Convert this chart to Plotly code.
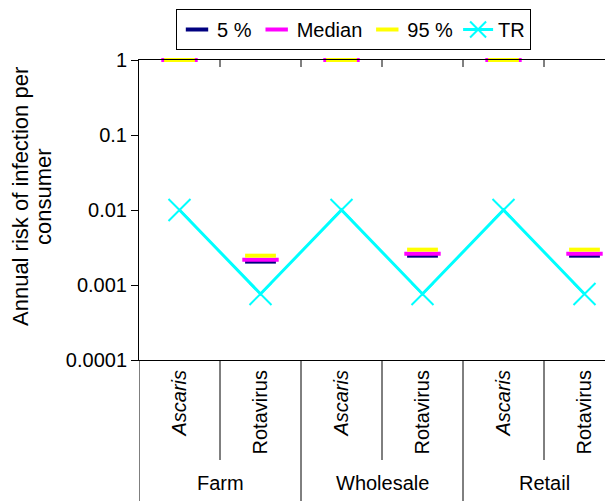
import plotly.graph_objects as go

# ---- data ----
stages = ["Farm", "Wholesale", "Retail"]
pathogens = ["<i>Ascaris</i>", "Rotavirus"]
p5 = [1, 0.00205, 1, 0.00246, 1, 0.00246]
median = [1, 0.00217, 1, 0.00261, 1, 0.00261]
p95 = [1, 0.00246, 1, 0.00296, 1, 0.00296]
tr = [0.01, 0.00076, 0.01, 0.00076, 0.01, 0.00076]
ytick_vals = [0.0001, 0.001, 0.01, 0.1, 1]
ytick_text = ["0.0001", "0.001", "0.01", "0.1", "1"]

inner = [p for s in stages for p in pathogens]
outer = [s for s in stages for p in pathogens]
x = list(range(len(inner)))
npath = len(pathogens)

FONT = "Liberation Sans, Arial, sans-serif"
OFF = 8  # page body margin
W, H = 613 - OFF, 501 - OFF
ML, MT, PH = 139 - OFF, 60 - OFF, 300
MR = 0
MB = H - MT - PH
PW = W - ML - MR
CAT = 81.0  # px per category
xr = [-0.5, -0.5 + PW / CAT]


def px_x(ref_x):
    return (ref_x - OFF - ML) / PW


def px_y(ref_y):
    return (MT + PH - (ref_y - OFF)) / PH


fig = go.Figure()
fig.add_trace(go.Scatter(x=x, y=p5, name="5 %", mode="markers", cliponaxis=False,
                         marker=dict(symbol="line-ew", size=22, color="#000080",
                                     line=dict(color="#000080", width=4))))
fig.add_trace(go.Scatter(x=x, y=median, name="Median", mode="markers", cliponaxis=False,
                         marker=dict(symbol="line-ew", size=26, color="#FF00FF",
                                     line=dict(color="#FF00FF", width=4))))
fig.add_trace(go.Scatter(x=x, y=p95, name="95 %", mode="markers", cliponaxis=False,
                         marker=dict(symbol="line-ew", size=22, color="#FFFF00",
                                     line=dict(color="#FFFF00", width=4))))
fig.add_trace(go.Scatter(x=x, y=tr, name="TR", mode="lines+markers", cliponaxis=False,
                         line=dict(color="#00FFFF", width=3),
                         marker=dict(symbol="x-thin", size=22, color="#00FFFF",
                                     line=dict(color="#00FFFF", width=2))))

shapes = []
# top line ticks at category boundaries
for i in range(len(inner) - 1):
    shapes.append(dict(type="line", xref="x", yref="paper", x0=i + 0.5, x1=i + 0.5,
                       y0=1, y1=1 - 7 / PH, line=dict(color="black", width=1)))
# dividers below the axis
for i in range(len(inner) - 1):
    b = i + 0.5
    y1 = -MB / PH if (i + 1) % npath == 0 else -100 / PH
    shapes.append(dict(type="line", xref="x", yref="paper", x0=b, x1=b,
                       y0=0, y1=y1, line=dict(color="black", width=1)))
# left axis extension
shapes.append(dict(type="line", xref="x", yref="paper", x0=-0.5, x1=-0.5,
                   y0=0, y1=-MB / PH, line=dict(color="black", width=1)))

annotations = []
for gi, s in enumerate(stages):
    cx = gi * npath + (npath - 1) / 2
    annotations.append(dict(x=cx, y=px_y(483), xref="x", yref="paper",
                            text=s, showarrow=False, xanchor="center", yanchor="middle",
                            font=dict(family=FONT, size=20, color="black")))
annotations.append(dict(x=px_x(20), y=px_y(197), xref="paper", yref="paper",
                        text="Annual risk of infection per", textangle=-90, showarrow=False,
                        xanchor="center", yanchor="middle",
                        font=dict(family=FONT, size=22, color="black")))
annotations.append(dict(x=px_x(43), y=px_y(197), xref="paper", yref="paper",
                        text="consumer", textangle=-90, showarrow=False,
                        xanchor="center", yanchor="middle",
                        font=dict(family=FONT, size=22, color="black")))

fig.update_layout(
    width=W, height=H,
    margin=dict(l=ML, r=MR, t=MT, b=MB, autoexpand=False),
    paper_bgcolor="white", plot_bgcolor="white",
    font=dict(family=FONT, size=20, color="black"),
    showlegend=True,
    legend=dict(orientation="h", x=px_x(176), y=px_y(9),
                xanchor="left", yanchor="top", bordercolor="black", borderwidth=1,
                font=dict(family=FONT, size=20, color="black"), itemwidth=30,
                traceorder="normal", bgcolor="white"),
    xaxis=dict(range=xr, tickmode="array", tickvals=x, ticktext=inner, tickangle=-90,
               showgrid=False, zeroline=False, showline=True, mirror=True,
               linecolor="black", linewidth=1, ticks="", ticklabelstandoff=1,
               tickfont=dict(family=FONT, size=20, color="black")),
    yaxis=dict(type="log", range=[-4, 0], tickmode="array", tickvals=ytick_vals,
               ticktext=ytick_text, showgrid=False, zeroline=False, showline=True,
               linecolor="black", linewidth=1, ticks="outside", ticklen=7,
               tickcolor="black", tickfont=dict(family=FONT, size=20, color="black")),
    shapes=shapes, annotations=annotations,
)

fig.write_html("out.html")
